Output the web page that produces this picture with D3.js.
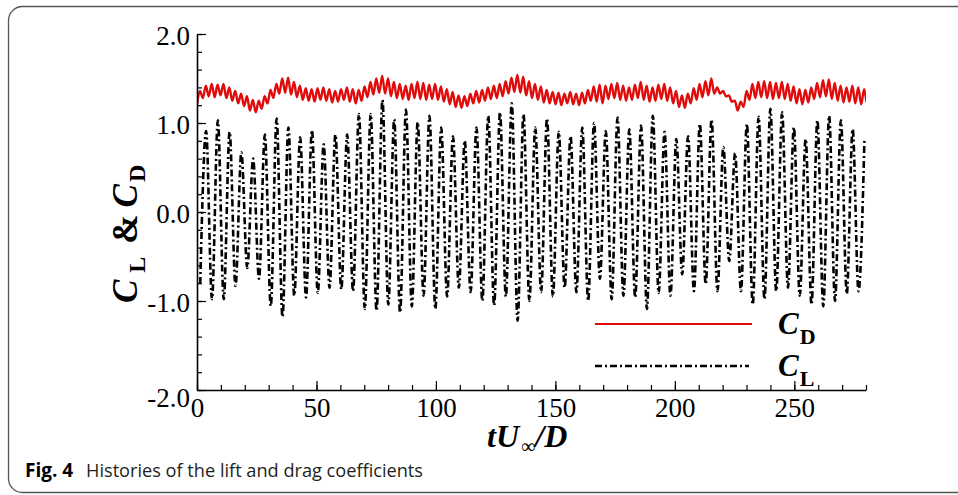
<!DOCTYPE html>
<html>
<head>
<meta charset="utf-8">
<script src="https://cdn.jsdelivr.net/npm/d3@7"></script>
<style>
body{margin:0;background:#fff;}
svg{display:block;}
</style>
</head>
<body>
<svg id="chart" width="958" height="495"></svg>
<script>
// ---- data ----
// C_L extremes: troughs start at t=1.35, peaks 2.46 later, one pair per shedding cycle
var clStart = 1.35;
var clHalfStep = 2.46;
var clTroughs = [-0.81,-0.98,-0.98,-0.83,-0.63,-0.75,-1.06,-1.18,-0.94,-0.96,
                 -0.91,-0.85,-0.87,-0.89,-1.09,-1.11,-1.04,-1.13,-1.06,-0.94,
                 -1.09,-0.95,-0.85,-0.90,-1.00,-1.05,-0.95,-1.22,-1.00,-0.90,
                 -0.95,-0.85,-0.90,-1.00,-0.75,-0.98,-0.94,-0.96,-1.09,-0.91,
                 -0.94,-0.70,-0.89,-0.81,-0.89,-0.55,-0.89,-1.04,-0.98,-0.89,
                 -0.85,-0.94,-1.04,-1.06,-1.00,-0.92,-0.89];
var clPeaks = [0.91,1.03,0.90,0.67,0.60,0.87,1.05,0.95,0.84,0.92,
               0.76,0.87,0.87,1.10,1.10,1.26,1.04,1.15,1.01,1.08,
               0.95,0.85,0.80,0.95,1.08,1.12,1.22,1.10,0.95,1.05,
               0.90,0.85,0.95,1.00,0.91,1.06,0.93,0.97,1.08,0.90,
               0.82,0.85,0.99,1.04,0.73,0.66,0.99,1.07,1.16,1.12,
               0.95,0.82,1.03,1.08,1.03,0.93,0.80];

// C_D extremes: troughs start at t=0, peaks 1.23 later (twice the lift frequency)
var cdStart = 0;
var cdHalfStep = 1.23;
var cdTroughs = [1.21,1.28,1.30,1.29,1.31,1.28,1.25,1.22,1.19,1.14,
                 1.12,1.16,1.22,1.28,1.33,1.34,1.32,1.29,1.26,1.25,
                 1.24,1.26,1.25,1.23,1.24,1.26,1.24,1.22,1.25,1.29,
                 1.32,1.34,1.33,1.30,1.28,1.27,1.26,1.28,1.27,1.26,
                 1.27,1.26,1.24,1.21,1.18,1.17,1.19,1.22,1.23,1.25,
                 1.27,1.28,1.30,1.33,1.35,1.34,1.31,1.28,1.26,1.23,
                 1.22,1.21,1.20,1.22,1.21,1.20,1.22,1.25,1.24,1.22,
                 1.27,1.28,1.26,1.25,1.26,1.28,1.26,1.24,1.25,1.27,
                 1.25,1.22,1.18,1.17,1.22,1.26,1.29,1.31,1.33,1.33,
                 1.30,1.24,1.14,1.18,1.26,1.28,1.29,1.28,1.27,1.28,
                 1.27,1.25,1.22,1.21,1.23,1.27,1.29,1.30,1.27,1.25,
                 1.23,1.24,1.22,1.21,1.22];
var cdPeaks = [1.36,1.42,1.44,1.43,1.44,1.40,1.36,1.33,1.30,1.26,
               1.25,1.30,1.37,1.44,1.50,1.51,1.46,1.42,1.39,1.38,
               1.39,1.40,1.38,1.36,1.38,1.40,1.38,1.37,1.41,1.46,
               1.50,1.53,1.50,1.46,1.44,1.42,1.44,1.46,1.45,1.43,
               1.44,1.41,1.38,1.35,1.31,1.30,1.33,1.36,1.37,1.40,
               1.42,1.44,1.47,1.51,1.54,1.52,1.47,1.44,1.41,1.37,
               1.35,1.34,1.33,1.35,1.33,1.34,1.37,1.41,1.43,1.42,
               1.44,1.45,1.42,1.40,1.43,1.46,1.42,1.40,1.43,1.44,
               1.40,1.36,1.31,1.33,1.39,1.44,1.47,1.50,1.40,1.36,
               1.31,1.25,1.24,1.36,1.44,1.46,1.47,1.46,1.45,1.46,
               1.44,1.41,1.38,1.37,1.40,1.45,1.48,1.49,1.45,1.42,
               1.40,1.42,1.40,1.38,1.37];

var xTicks = [0,50,100,150,200,250];
var yTicks = [-2,-1,0,1,2];
var legendLabels = [{main:'C', sub:'D'}, {main:'C', sub:'L'}];

// ---- build series ----
function buildSeries(start, half, lows, highs){
	var pts = [];
	for(var i=0; i<lows.length; i++){
		pts.push({t: start + 2*i*half, v: lows[i]});
		if(i < highs.length) pts.push({t: start + (2*i+1)*half, v: highs[i]});
	}
	return pts;
}
var clData = buildSeries(clStart, clHalfStep, clTroughs, clPeaks);
var cdData = buildSeries(cdStart, cdHalfStep, cdTroughs, cdPeaks);

var svg = d3.select('#chart');
var serif = '"Liberation Serif","Times New Roman",serif';

// outer frame of the figure box
svg.append('rect')
	.attr('x', 8.5).attr('y', 6.5)
	.attr('width', 1000).attr('height', 486)
	.attr('rx', 14).attr('ry', 14)
	.attr('fill', 'none')
	.attr('stroke', '#555')
	.attr('stroke-width', 1.3);

var x = d3.scaleLinear().domain([0, 280]).range([197, 866]);
var y = d3.scaleLinear().domain([-2, 2]).range([390, 34]);

svg.append('defs').append('clipPath').attr('id', 'plotClip')
	.append('rect')
	.attr('x', x(0)).attr('y', y(2) - 2)
	.attr('width', x(280) - x(0)).attr('height', y(-2) - y(2) + 2);

var line = d3.line()
	.x(function(d){return x(d.t)})
	.y(function(d){return y(d.v)})
	.curve(d3.curveMonotoneX);

var plot = svg.append('g').attr('clip-path', 'url(#plotClip)');

plot.append('path')
	.datum(clData)
	.attr('d', line)
	.attr('fill', 'none')
	.attr('stroke', '#000')
	.attr('stroke-width', 2.6)
	.attr('stroke-dasharray', '7,3,2,3');

plot.append('path')
	.datum(cdData)
	.attr('d', line)
	.attr('fill', 'none')
	.attr('stroke', '#e00c0c')
	.attr('stroke-width', 2.4);

// axes (ticks point inward, Tecplot style)
var fmt = function(d){return d.toFixed(1)};

var xMinor = svg.append('g').attr('transform', 'translate(0,' + y(-2) + ')')
	.call(d3.axisBottom(x).tickValues(d3.range(0, 281, 10)).tickFormat('').tickSizeInner(-5).tickSizeOuter(0));
xMinor.select('.domain').remove();

var yMinor = svg.append('g').attr('transform', 'translate(' + x(0) + ',0)')
	.call(d3.axisLeft(y).tickValues(d3.range(-20, 21, 2).map(function(d){return d/10})).tickFormat('').tickSizeInner(-5).tickSizeOuter(0));
yMinor.select('.domain').remove();

var xAxis = svg.append('g').attr('transform', 'translate(0,' + y(-2) + ')')
	.call(d3.axisBottom(x).tickValues(xTicks).tickSizeInner(-9).tickSizeOuter(0).tickPadding(8));

var yAxis = svg.append('g').attr('transform', 'translate(' + x(0) + ',0)')
	.call(d3.axisLeft(y).tickValues(yTicks).tickFormat(fmt).tickSizeInner(-9).tickSizeOuter(0).tickPadding(7));

svg.selectAll('.domain').attr('stroke-width', 1.6);
svg.selectAll('.tick line').attr('stroke-width', 1.2);
svg.selectAll('.tick text')
	.style('font-family', serif)
	.style('font-size', '27px')
	.attr('fill', '#000');
yAxis.selectAll('.tick text').attr('dy', function(d){return d === -2 ? '0.62em' : '0.4em'});

// axis titles
var xTitle = svg.append('text')
	.attr('x', 487).attr('y', 447)
	.style('font-family', serif)
	.style('font-weight', 'bold')
	.style('font-style', 'italic')
	.style('font-size', '32px');
xTitle.append('tspan').text('tU');
xTitle.append('tspan').attr('dx', 2).attr('dy', 6)
	.style('font-size', '20px').style('font-weight', 'normal').style('font-style', 'normal').text('\u221E');
xTitle.append('tspan').attr('dy', -6).text('/D');

var yTitle = svg.append('text')
	.attr('transform', 'translate(137,303) rotate(-90)')
	.style('font-family', serif)
	.style('font-weight', 'bold')
	.style('font-size', '35px');
yTitle.append('tspan').style('font-style', 'italic').text('C');
yTitle.append('tspan').attr('dx', 7).attr('dy', 8).style('font-size', '24px').text('L');
yTitle.append('tspan').attr('dx', 13).attr('dy', -8).text('&');
yTitle.append('tspan').attr('dx', 7).style('font-style', 'italic').text('C');
yTitle.append('tspan').attr('dx', 2).attr('dy', 8).style('font-size', '24px').text('D');

// legend
var legendStyles = [
	{stroke: '#e00c0c', dash: null, x2: 752},
	{stroke: '#000', dash: '7,3,2,3', x2: 749}
];
var legend = svg.append('g').selectAll('g').data(legendLabels).enter()
	.append('g')
	.attr('transform', function(d, i){return 'translate(0,' + (324 + i*42) + ')'});
legend.append('line')
	.attr('x1', 595).attr('x2', function(d, i){return legendStyles[i].x2})
	.attr('y1', 0).attr('y2', 0)
	.attr('stroke', function(d, i){return legendStyles[i].stroke})
	.attr('stroke-width', function(d, i){return i ? 2.6 : 2})
	.attr('stroke-dasharray', function(d, i){return legendStyles[i].dash});
var lt = legend.append('text')
	.attr('x', 778).attr('y', 10)
	.style('font-family', serif)
	.style('font-weight', 'bold')
	.style('font-size', '31px');
lt.append('tspan').style('font-style', 'italic').text(function(d){return d.main});
lt.append('tspan').attr('dx', 1).attr('dy', 10).style('font-size', '22px').text(function(d){return d.sub});

// caption
var cap = svg.append('text')
	.attr('x', 25).attr('y', 477)
	.style('font-family', '"Open Sans","Noto Sans",sans-serif')
	.style('font-size', '19px')
	.attr('fill', '#231f20');
cap.append('tspan').style('font-weight', 'bold').attr('fill', '#000').text('Fig. 4');
cap.append('tspan').attr('x', 86).attr('textLength', 337).attr('lengthAdjust', 'spacingAndGlyphs')
	.text('Histories of the lift and drag coefficients');
</script>
</body>
</html>
